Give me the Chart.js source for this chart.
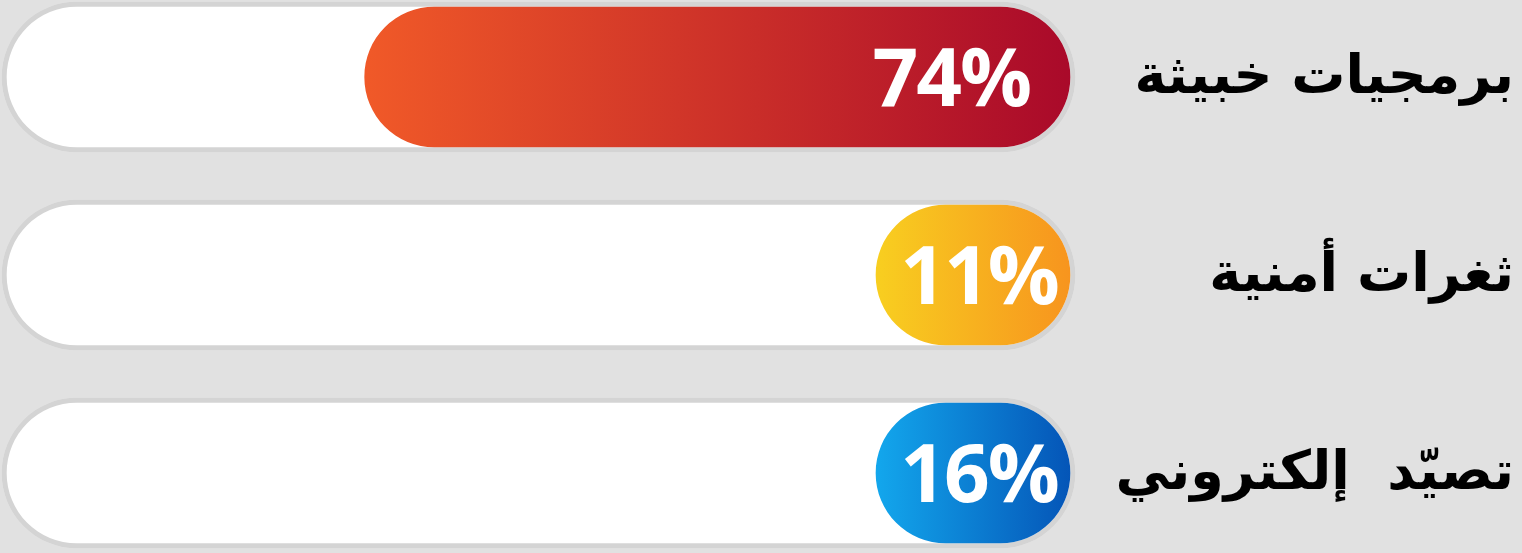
<!DOCTYPE html>
<html lang="ar">
<head>
<meta charset="utf-8">
<script src="https://cdn.jsdelivr.net/npm/chart.js@4.4.1/dist/chart.umd.min.js"></script>
<style>
  html, body { margin: 0; padding: 0; background: #e1e1e1; }
  #wrap { width: 1522px; height: 553px; }
</style>
</head>
<body>
<div id="wrap"><canvas id="chart1" width="1522" height="553"></canvas></div>
<script>
(function () {
  // ====== 데이터 ======
  const categories = ['برمجيات خبيثة', 'ثغرات أمنية', 'تصيّد  إلكتروني'];
  const shares = [74, 11, 16];
  const pctLabels = ['74%', '11%', '16%'];
  const trackMax = 111; // 배경 트랙 끝 (그림 기준)

  // ====== 스타일 ======
  const gradients = [
    ['#f15a28', '#a9092a'],
    ['#f8d020', '#f7931e'],
    ['#13a9ee', '#0453b6']
  ];
  const MIN_LEN = 204;
  const BAR_H = 150;

  const barGradient = (c) => {
    const {chart, dataIndex} = c;
    const g = gradients[dataIndex] || gradients[0];
    const area = chart.chartArea;
    const xs = chart.scales.x;
    if (!area || !xs) return g[0];
    const right = xs.getPixelForValue(0);
    const left = Math.min(xs.getPixelForValue(shares[dataIndex]), right - MIN_LEN);
    const grad = chart.ctx.createLinearGradient(left, 0, right, 0);
    grad.addColorStop(0, g[0]);
    grad.addColorStop(1, g[1]);
    return grad;
  };

  // 막대 안 퍼센트 + 오른쪽 카테고리 텍스트
  const textPlugin = {
    id: 'textPlugin',
    afterDatasetsDraw(chart) {
      const ctx = chart.ctx;
      const meta = chart.getDatasetMeta(1);
      const ys = chart.scales.y;
      ctx.save();
      meta.data.forEach((el, i) => {
        const right = Math.max(el.x, el.base);
        const left = Math.min(el.x, el.base);
        ctx.font = 'bold 80px "Open Sans", "Noto Sans", sans-serif';
        if ('letterSpacing' in ctx) ctx.letterSpacing = '-2px';
        ctx.fillStyle = '#ffffff';
        ctx.textBaseline = 'alphabetic';
        const w = ctx.measureText(pctLabels[i]).width;
        if ((right - left) - w < 90) {
          ctx.textAlign = 'center';
          ctx.fillText(pctLabels[i], (left + right) / 2 + 6, el.y + 29);
        } else {
          ctx.textAlign = 'right';
          ctx.fillText(pctLabels[i], right - 45, el.y + 29);
        }
      });
      if ('letterSpacing' in ctx) ctx.letterSpacing = '0px';
      categories.forEach((lab, i) => {
        const y = ys.getPixelForValue(i);
        ctx.font = 'bold 54px "DejaVu Sans", sans-serif';
        ctx.fillStyle = '#000000';
        ctx.direction = 'rtl';
        ctx.textAlign = 'right';
        ctx.textBaseline = 'middle';
        ctx.fillText(lab, 1514, y + 2);
      });
      ctx.restore();
    }
  };

  const ctx = document.getElementById('chart1');
  new Chart(ctx, {
    type: 'bar',
    data: {
      labels: categories,
      datasets: [
        {
          label: 'track',
          data: categories.map(() => trackMax),
          backgroundColor: '#ffffff',
          borderColor: '#d4d4d4',
          borderWidth: 5,
          borderRadius: BAR_H / 2,
          borderSkipped: false,
          barThickness: BAR_H,
          grouped: false,
          clip: false,
          order: 2
        },
        {
          label: 'share',
          data: shares,
          backgroundColor: barGradient,
          borderColor: 'rgba(0,0,0,0)',
          borderWidth: 5,
          borderRadius: BAR_H / 2,
          borderSkipped: false,
          barThickness: BAR_H,
          minBarLength: MIN_LEN,
          grouped: false,
          clip: false,
          order: 1
        }
      ]
    },
    options: {
      indexAxis: 'y',
      responsive: false,
      animation: false,
      layout: { padding: { left: 2, right: 447, top: 77, bottom: 80 } },
      plugins: {
        legend: { display: false },
        tooltip: { enabled: false }
      },
      scales: {
        x: { display: false, reverse: true, min: 0, max: trackMax, grid: { display: false } },
        y: { display: false, offset: false, grid: { display: false } }
      }
    },
    plugins: [textPlugin]
  });
})();
</script>
</body>
</html>
